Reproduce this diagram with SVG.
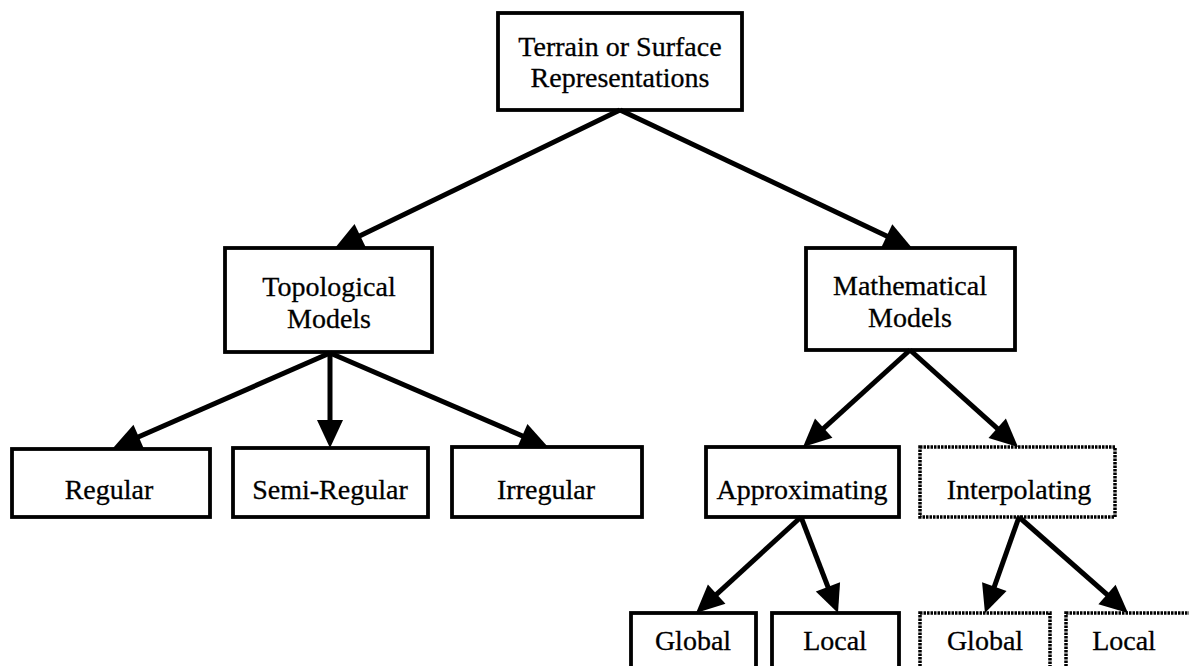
<svg xmlns="http://www.w3.org/2000/svg" width="1189" height="666" viewBox="0 0 1189 666">
<style>
.box{fill:#fff;stroke:#000;stroke-width:3.8}
.dash{fill:#fff;stroke:#000;stroke-width:3.5;stroke-dasharray:2.5 1}
.t{font-family:"Liberation Serif","Times New Roman",serif;font-size:28px;fill:#000;text-anchor:middle;stroke:#000;stroke-width:0.3}
.c{stroke:#000;stroke-width:5;fill:none;marker-end:url(#ah)}
</style>
<defs>
<marker id="ah" markerUnits="userSpaceOnUse" markerWidth="32" markerHeight="28" refX="18" refY="13" orient="auto" overflow="visible">
<path d="M0,0 L28,13 L0,26 Z" fill="#000"/>
</marker>
</defs>
<rect width="1189" height="666" fill="#fff"/>
<g id="n-root"><rect class="box" x="498" y="13" width="244" height="97"/><text class="t" x="620" y="56">Terrain or Surface</text><text class="t" x="620" y="87">Representations</text></g>
<g id="n-topo"><rect class="box" x="225" y="248" width="207" height="104"/><text class="t" x="329" y="296">Topological</text><text class="t" x="329" y="328">Models</text></g>
<g id="n-math"><rect class="box" x="806" y="248" width="209" height="102"/><text class="t" x="910" y="295">Mathematical</text><text class="t" x="910" y="327">Models</text></g>
<g id="n-regular"><rect class="box" x="12" y="449" width="198" height="68"/><text class="t" x="109" y="499">Regular</text></g>
<g id="n-semi"><rect class="box" x="233" y="448" width="195" height="69"/><text class="t" x="330" y="499">Semi-Regular</text></g>
<g id="n-irregular"><rect class="box" x="452" y="447" width="190" height="70"/><text class="t" x="546" y="499">Irregular</text></g>
<g id="n-approx"><rect class="box" x="706" y="447" width="193" height="70"/><text class="t" x="802" y="499">Approximating</text></g>
<g id="n-interp"><rect class="dash" x="920" y="447" width="195" height="70"/><text class="t" x="1019" y="499">Interpolating</text></g>
<g id="n-a-global"><rect class="box" x="631" y="613" width="125" height="70"/><text class="t" x="693" y="650">Global</text></g>
<g id="n-a-local"><rect class="box" x="772" y="613" width="127" height="70"/><text class="t" x="835" y="650">Local</text></g>
<g id="n-i-global"><rect class="dash" x="920" y="613" width="130" height="70"/><text class="t" x="985" y="650">Global</text></g>
<g id="n-i-local"><rect class="dash" x="1066" y="613" width="130" height="70"/><text class="t" x="1124" y="650">Local</text></g>
<g id="connectors">
<line class="c" x1="620" y1="110" x2="344" y2="243.6"/>
<line class="c" x1="620" y1="110" x2="903" y2="243.7"/>
<line class="c" x1="330" y1="353" x2="122.2" y2="444"/>
<line class="c" x1="330" y1="353" x2="330" y2="438"/>
<line class="c" x1="330" y1="353" x2="538.8" y2="443"/>
<line class="c" x1="910" y1="350" x2="810.4" y2="440.3"/>
<line class="c" x1="910" y1="350" x2="1010.6" y2="440.3"/>
<line class="c" x1="801" y1="517" x2="703.4" y2="606.3"/>
<line class="c" x1="801" y1="517" x2="834.4" y2="603.7"/>
<line class="c" x1="1019" y1="517" x2="988.3" y2="603.6"/>
<line class="c" x1="1019" y1="517" x2="1120.5" y2="606.4"/>
</g>
</svg>
